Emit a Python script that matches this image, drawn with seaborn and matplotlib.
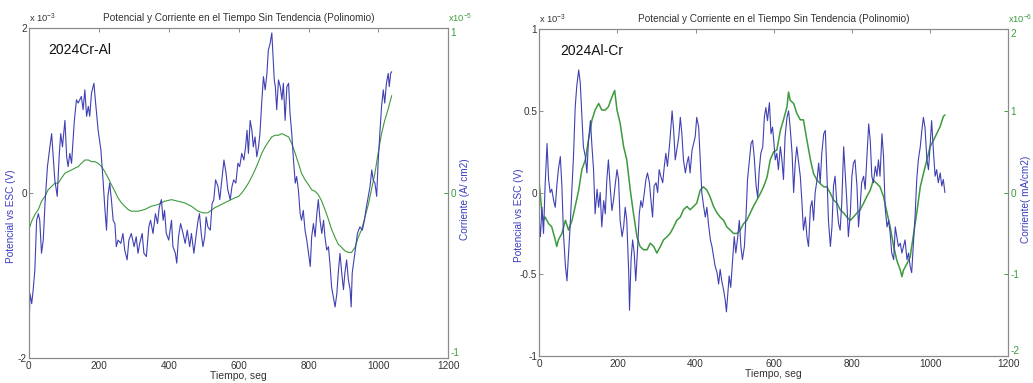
import numpy as np
import pandas as pd
import matplotlib
matplotlib.use("Agg")
import matplotlib.pyplot as plt
import seaborn as sns

# ---------------- data: left panel (2024Cr-Al) ----------------
t_pot_a = [0, 3, 8, 12, 17, 22, 27, 31, 36, 41, 46, 53, 60, 65, 70, 74, 81, 87, 91, 96,
           103, 108, 112, 117, 122, 130, 136, 141, 150, 155, 160, 165, 170, 174, 179, 186, 190, 198, 206, 212,
           217, 222, 226, 231, 236, 241, 246, 250, 255, 263, 269, 274, 281, 286, 293, 301, 307, 312, 317, 324,
           329, 336, 343, 348, 355, 362, 368, 373, 379, 384, 388, 393, 400, 408, 412, 419, 423, 428, 434, 441,
           447, 453, 460, 465, 472, 479, 484, 488, 493, 498, 503, 507, 512, 519, 524, 529, 534, 541, 546, 552,
           558, 564, 569, 576, 581, 586, 592, 598, 603, 609, 615, 620, 624, 628, 633, 638, 642, 647, 652, 657,
           661, 666, 671, 676, 681, 685, 690, 695, 698, 702, 705, 709, 714, 719, 724, 728, 733, 738, 743, 747,
           752, 757, 762, 766, 771, 776, 780, 785, 790, 795, 800, 805, 809, 814, 819, 823, 828, 833, 838, 843,
           847, 852, 857, 862, 866, 871, 876, 881, 885, 890, 895, 900, 904, 909, 914, 919, 922, 925, 930, 935,
           940, 947, 954, 960, 964, 971, 976, 981, 985, 990, 995, 999, 1004, 1009, 1014, 1018, 1023, 1028, 1031, 1035,
           1038]
pot_a = [-1.70, -1.22, -1.34, -1.18, -0.93, -0.33, -0.25, -0.33, -0.73, -0.57, -0.13, 0.32, 0.56, 0.72, 0.40, 0.16, -0.04, 0.48, 0.72, 0.56,
         0.88, 0.44, 0.32, 0.48, 0.36, 0.88, 1.13, 1.09, 1.17, 1.01, 1.25, 0.93, 1.05, 0.93, 1.21, 1.33, 1.13, 0.76, 0.52, 0.16,
         -0.17, -0.45, -0.04, 0.12, -0.08, -0.33, -0.37, -0.65, -0.57, -0.61, -0.49, -0.69, -0.81, -0.57, -0.49, -0.65, -0.53, -0.73, -0.61, -0.49,
         -0.73, -0.77, -0.41, -0.33, -0.49, -0.25, -0.37, -0.17, -0.08, -0.33, -0.21, -0.49, -0.57, -0.33, -0.65, -0.73, -0.85, -0.53, -0.37, -0.49,
         -0.61, -0.45, -0.65, -0.49, -0.73, -0.49, -0.33, -0.25, -0.49, -0.65, -0.53, -0.29, -0.41, -0.45, -0.13, -0.08, 0.16, 0.08, -0.08, 0.16,
         0.40, 0.24, 0.04, -0.08, 0.08, 0.16, 0.12, 0.36, 0.32, 0.48, 0.40, 0.56, 0.76, 0.48, 0.88, 0.76, 0.56, 0.68, 0.44, 0.56,
         0.72, 1.09, 1.41, 1.25, 1.45, 1.73, 1.81, 1.94, 1.69, 1.37, 1.29, 1.01, 1.37, 1.29, 1.13, 1.33, 0.88, 1.29, 1.33, 0.97,
         0.72, 0.40, 0.12, 0.20, 0.04, -0.25, -0.33, -0.21, -0.45, -0.57, -0.73, -0.89, -0.53, -0.37, -0.53, -0.29, -0.08, -0.33, -0.49, -0.33,
         -0.53, -0.69, -0.65, -0.89, -1.14, -1.26, -1.38, -1.22, -0.97, -0.73, -0.97, -1.17, -0.97, -0.81, -1.05, -1.17, -1.38, -0.97, -0.81, -0.65,
         -0.49, -0.41, -0.45, -0.33, -0.21, -0.04, 0.08, 0.28, 0.16, 0.12, -0.04, 0.36, 0.72, 1.05, 1.25, 1.09, 1.33, 1.45, 1.29, 1.45,
         1.47]

t_cur_a = [0, 8, 17, 27, 36, 46, 55, 65, 74, 84, 93, 103, 112, 122, 131, 141, 150, 160, 170, 179,
           189, 198, 208, 217, 227, 236, 246, 255, 265, 274, 284, 293, 312, 331, 350, 369, 388, 408, 427, 446,
           465, 484, 498, 512, 531, 550, 569, 588, 600, 609, 619, 628, 638, 647, 657, 666, 676, 685, 695, 704,
           714, 724, 733, 743, 752, 762, 771, 780, 790, 800, 809, 819, 828, 838, 847, 857, 866, 876, 885, 895,
           904, 914, 923, 933, 942, 952, 961, 971, 980, 990, 999, 1009, 1018, 1028, 1038]
cur_a = [-0.22, -0.17, -0.13, -0.10, -0.05, -0.02, 0.02, 0.04, 0.06, 0.06, 0.09, 0.12, 0.13, 0.14, 0.15, 0.16, 0.18, 0.20, 0.20, 0.19,
         0.19, 0.18, 0.16, 0.13, 0.09, 0.05, 0.01, -0.03, -0.06, -0.08, -0.10, -0.11, -0.11, -0.10, -0.08, -0.07, -0.05, -0.04, -0.05, -0.06,
         -0.08, -0.11, -0.12, -0.12, -0.09, -0.07, -0.05, -0.03, -0.02, 0.00, 0.03, 0.06, 0.10, 0.14, 0.19, 0.24, 0.28, 0.31, 0.34, 0.35,
         0.35, 0.36, 0.35, 0.34, 0.30, 0.24, 0.18, 0.12, 0.08, 0.05, 0.02, 0.01, -0.01, -0.05, -0.10, -0.16, -0.22, -0.27, -0.31, -0.33,
         -0.35, -0.36, -0.36, -0.33, -0.27, -0.22, -0.15, -0.07, 0.02, 0.12, 0.24, 0.36, 0.44, 0.51, 0.59]

# ---------------- data: right panel (2024Al-Cr) ----------------
t_pot_b = [0, 3, 7, 11, 15, 20, 24, 28, 32, 37, 41, 45, 49, 54, 58, 62, 67, 71, 75, 79,
           84, 88, 92, 96, 101, 105, 109, 113, 118, 122, 126, 131, 135, 139, 143, 148, 152, 156, 160, 165,
           169, 173, 177, 182, 186, 190, 195, 199, 203, 207, 212, 216, 220, 224, 229, 231, 235, 239, 243, 247,
           252, 256, 260, 264, 269, 273, 277, 282, 286, 290, 294, 299, 303, 307, 311, 316, 320, 324, 328, 333,
           337, 340, 344, 348, 352, 357, 361, 365, 369, 374, 378, 382, 386, 391, 395, 399, 403, 408, 412, 416,
           421, 425, 429, 433, 438, 442, 446, 450, 455, 459, 463, 467, 472, 476, 479, 483, 486, 490, 495, 499,
           503, 508, 512, 516, 520, 525, 529, 533, 537, 542, 546, 550, 555, 559, 563, 567, 572, 576, 580, 584,
           589, 593, 597, 600, 604, 608, 612, 617, 621, 625, 629, 634, 638, 642, 647, 651, 655, 659, 664, 668,
           672, 676, 681, 685, 689, 694, 698, 702, 706, 711, 715, 719, 723, 728, 732, 736, 740, 745, 749, 753,
           757, 762, 766, 770, 774, 779, 783, 787, 791, 796, 800, 804, 808, 813, 817, 821, 825, 830, 834, 838,
           843, 847, 851, 855, 860, 864, 868, 872, 877, 881, 885, 890, 894, 898, 902, 907, 911, 915, 919, 924,
           928, 932, 936, 941, 945, 949, 953, 958, 962, 966, 970, 975, 979, 983, 987, 992, 996, 1000, 1004, 1009,
           1013, 1017, 1021, 1026, 1030, 1034, 1038]
pot_b = [-0.17, -0.27, -0.09, -0.25, 0.04, 0.30, 0.08, 0.00, 0.02, -0.05, -0.09, 0.04, 0.14, 0.22, 0.04, -0.25, -0.45, -0.54, -0.37, -0.21,
         0.04, 0.24, 0.52, 0.65, 0.75, 0.67, 0.48, 0.28, 0.22, 0.12, 0.32, 0.44, 0.28, 0.14, -0.13, 0.02, -0.09, 0.00, -0.21, -0.05,
         -0.13, 0.08, 0.20, 0.02, -0.11, -0.05, 0.06, 0.14, 0.08, -0.17, -0.27, -0.21, -0.09, -0.17, -0.49, -0.72, -0.41, -0.29, -0.37, -0.54,
         -0.33, -0.13, -0.05, -0.09, 0.00, 0.08, 0.12, 0.06, -0.05, -0.15, 0.04, 0.06, 0.00, 0.14, 0.10, 0.06, 0.16, 0.24, 0.16, 0.28,
         0.40, 0.50, 0.38, 0.20, 0.26, 0.34, 0.46, 0.36, 0.20, 0.12, 0.18, 0.22, 0.12, 0.26, 0.30, 0.34, 0.46, 0.40, 0.20, 0.00,
         -0.09, -0.15, -0.09, -0.19, -0.29, -0.33, -0.39, -0.45, -0.49, -0.56, -0.47, -0.54, -0.60, -0.66, -0.73, -0.60, -0.51, -0.58, -0.41, -0.27,
         -0.37, -0.27, -0.17, -0.33, -0.41, -0.33, -0.15, 0.08, 0.18, 0.30, 0.32, 0.22, 0.04, -0.03, 0.14, 0.24, 0.28, 0.46, 0.52, 0.44,
         0.55, 0.36, 0.40, 0.32, 0.20, 0.24, 0.14, 0.28, 0.20, 0.08, 0.34, 0.46, 0.50, 0.40, 0.24, 0.00, 0.18, 0.28, 0.18, 0.10,
         -0.05, -0.23, -0.15, -0.27, -0.33, -0.09, -0.05, -0.17, 0.00, 0.08, 0.18, 0.06, 0.24, 0.36, 0.38, 0.12, -0.17, -0.33, -0.21, 0.04,
         0.10, -0.09, -0.19, -0.23, -0.07, 0.28, 0.12, -0.05, -0.27, -0.13, 0.10, 0.18, 0.20, 0.04, -0.21, -0.09, 0.06, 0.10, 0.02, 0.20,
         0.42, 0.32, 0.10, 0.06, 0.16, 0.10, 0.20, 0.10, 0.36, 0.22, -0.09, -0.21, -0.17, -0.25, -0.37, -0.41, -0.21, -0.27, -0.33, -0.31,
         -0.37, -0.33, -0.29, -0.41, -0.37, -0.45, -0.49, -0.29, -0.13, 0.08, 0.20, 0.28, 0.38, 0.46, 0.40, 0.20, 0.14, 0.28, 0.44, 0.24,
         0.10, 0.14, 0.06, 0.12, 0.04, 0.08, 0.00]

t_cur_b = [0, 7, 11, 15, 24, 32, 41, 45, 49, 58, 67, 75, 84, 92, 101, 109, 118, 126, 135, 143,
           152, 160, 169, 177, 186, 193, 199, 207, 216, 224, 233, 241, 250, 258, 267, 276, 284, 293, 301, 310,
           318, 327, 335, 344, 352, 361, 369, 378, 386, 395, 403, 412, 420, 429, 437, 446, 455, 463, 472, 480,
           489, 497, 506, 514, 523, 531, 540, 548, 557, 566, 574, 583, 591, 600, 608, 617, 625, 634, 638, 642,
           651, 659, 668, 676, 685, 694, 702, 711, 719, 728, 736, 745, 753, 762, 770, 779, 787, 796, 804, 813,
           821, 830, 838, 847, 855, 864, 872, 881, 890, 898, 907, 915, 924, 928, 932, 941, 949, 958, 966, 975,
           983, 992, 1000, 1009, 1017, 1026, 1034, 1038]
cur_b = [0.11, -0.25, -0.34, -0.30, -0.38, -0.42, -0.58, -0.66, -0.58, -0.50, -0.34, -0.46, -0.34, -0.17, 0.03, 0.28, 0.40, 0.64, 0.89, 1.01,
         1.09, 1.01, 1.01, 1.05, 1.17, 1.25, 1.01, 0.85, 0.56, 0.40, 0.03, -0.25, -0.54, -0.66, -0.70, -0.70, -0.62, -0.66, -0.74, -0.66,
         -0.58, -0.54, -0.50, -0.42, -0.34, -0.30, -0.21, -0.17, -0.21, -0.17, -0.13, 0.03, 0.07, 0.03, -0.05, -0.17, -0.25, -0.30, -0.34, -0.42,
         -0.46, -0.50, -0.50, -0.46, -0.38, -0.34, -0.25, -0.17, -0.09, -0.01, 0.07, 0.19, 0.40, 0.50, 0.52, 0.76, 0.89, 1.05, 1.23, 1.13,
         1.09, 0.97, 0.89, 0.89, 0.64, 0.40, 0.23, 0.15, 0.11, 0.07, 0.07, -0.01, -0.09, -0.13, -0.21, -0.25, -0.30, -0.34, -0.30, -0.25,
         -0.21, -0.13, -0.05, 0.03, 0.15, 0.11, 0.07, -0.05, -0.25, -0.42, -0.66, -0.83, -0.95, -1.03, -0.95, -0.87, -0.79, -0.50, -0.25, 0.07,
         0.23, 0.40, 0.56, 0.64, 0.72, 0.81, 0.93, 0.95]

title_text = "Potencial y Corriente en el Tiempo Sin Tendencia (Polinomio)"
xlabel_text = "Tiempo, seg"
ylabel_left = "Potencial vs ESC (V)"
ylabel_right_a = "Corriente (A/ cm2)"
ylabel_right_b = "Corriente( mA/cm2)"
tag_a = "2024Cr-Al"
tag_b = "2024Al-Cr"

# ---------------- style ----------------
sns.set_style("white")
plt.rcParams['font.family'] = ['Liberation Sans', 'DejaVu Sans']
plt.rcParams['mathtext.fontset'] = 'custom'
plt.rcParams['mathtext.rm'] = 'Liberation Sans'

BLUE = "#4040b4"
GREEN = "#3d9a3d"
LABEL_BLUE = "#3b3bc0"
SPINE = "#8a8a8a"
TICKTXT = "#333333"
FS = 7.2

fig = plt.figure(figsize=(10.33, 3.83), dpi=100)
ax_a = fig.add_axes([0.028, 0.065, 0.406, 0.862])
ax_b = fig.add_axes([0.522, 0.0705, 0.454, 0.8535])


def panel(ax, tp, vp, tc, vc, ylim_l, yticks_l, yticklabels_l, ylim_r, yticks_r, exp_l, exp_r,
          ylabel_r, tag, green_lw):
    df_p = pd.DataFrame({"t": tp, "v": vp})
    df_c = pd.DataFrame({"t": tc, "v": vc})
    ax2 = ax.twinx()
    sns.lineplot(data=df_c, x="t", y="v", ax=ax2, color=GREEN, lw=green_lw,
                 estimator=None, sort=False)
    sns.lineplot(data=df_p, x="t", y="v", ax=ax, color=BLUE, lw=0.8,
                 estimator=None, sort=False)
    ax.set_zorder(ax2.get_zorder() + 1)
    ax.patch.set_visible(False)

    ax.set_xlim(0, 1200)
    ax.set_ylim(*ylim_l)
    ax2.set_ylim(*ylim_r)
    ax.set_xticks(range(0, 1201, 200))
    ax.set_yticks(yticks_l)
    ax.set_yticklabels(yticklabels_l)
    ax2.set_yticks(yticks_r)
    ax2.set_yticklabels([f"{v:g}" for v in yticks_r])

    ax.tick_params(axis="both", direction="in", length=3, width=0.7, color=SPINE,
                   labelsize=FS, labelcolor=TICKTXT, pad=1.5, top=True)
    ax.tick_params(axis="x", pad=2)
    ax2.tick_params(axis="y", direction="in", length=3, width=0.7, color=GREEN,
                    labelsize=FS, labelcolor=GREEN, pad=1.5)
    # MATLAB-style: extreme twin labels sit just inside the corners
    labs = ax2.get_yticklabels()
    labs[0].set_va("bottom")
    labs[-1].set_va("top")
    for a in (ax, ax2):
        for s in a.spines.values():
            s.set_color(SPINE)
            s.set_linewidth(0.8)
    ax2.spines["right"].set_color("#8aa88a")

    ax.set_xlabel(xlabel_text, fontsize=FS + 0.3, color=TICKTXT, labelpad=0)
    ax.set_ylabel(ylabel_left, fontsize=FS, color=LABEL_BLUE, labelpad=2)
    ax.yaxis.set_label_coords(-0.032, 0.43)
    ax2.set_ylabel(ylabel_r, fontsize=FS, color=LABEL_BLUE, labelpad=3)
    ax2.yaxis.set_label_coords(1.028, 0.48)
    ax.set_title(title_text, fontsize=FS, color=TICKTXT, pad=5)

    ax.text(0.0, 1.01, "x 10$^{" + exp_l + "}$", transform=ax.transAxes,
            fontsize=FS - 0.5, color=TICKTXT, ha="left", va="bottom")
    ax.text(1.0, 1.01, "x10$^{" + exp_r + "}$", transform=ax.transAxes,
            fontsize=FS - 0.5, color=GREEN, ha="left", va="bottom")
    ax.text(0.045, 0.955, tag, transform=ax.transAxes, fontsize=10,
            color="#111111", ha="left", va="top")
    ax.grid(False)
    ax2.grid(False)


panel(ax_a, t_pot_a, pot_a, t_cur_a, cur_a, (-2, 2), [-2, 0, 2], ["-2", "0", "2"],
      (-1, 1), [-1, 0, 1], "-3", "-5", ylabel_right_a, tag_a, 0.8)
panel(ax_b, t_pot_b, pot_b, t_cur_b, cur_b, (-1, 1), [-1, -0.5, 0, 0.5, 1],
      ["-1", "-0.5", "0", "0.5", "1"], (-2, 2), [-2, -1, 0, 1, 2], "-3", "-6",
      ylabel_right_b, tag_b, 1.1)

fig.savefig("out.png", dpi=100, facecolor="white")
